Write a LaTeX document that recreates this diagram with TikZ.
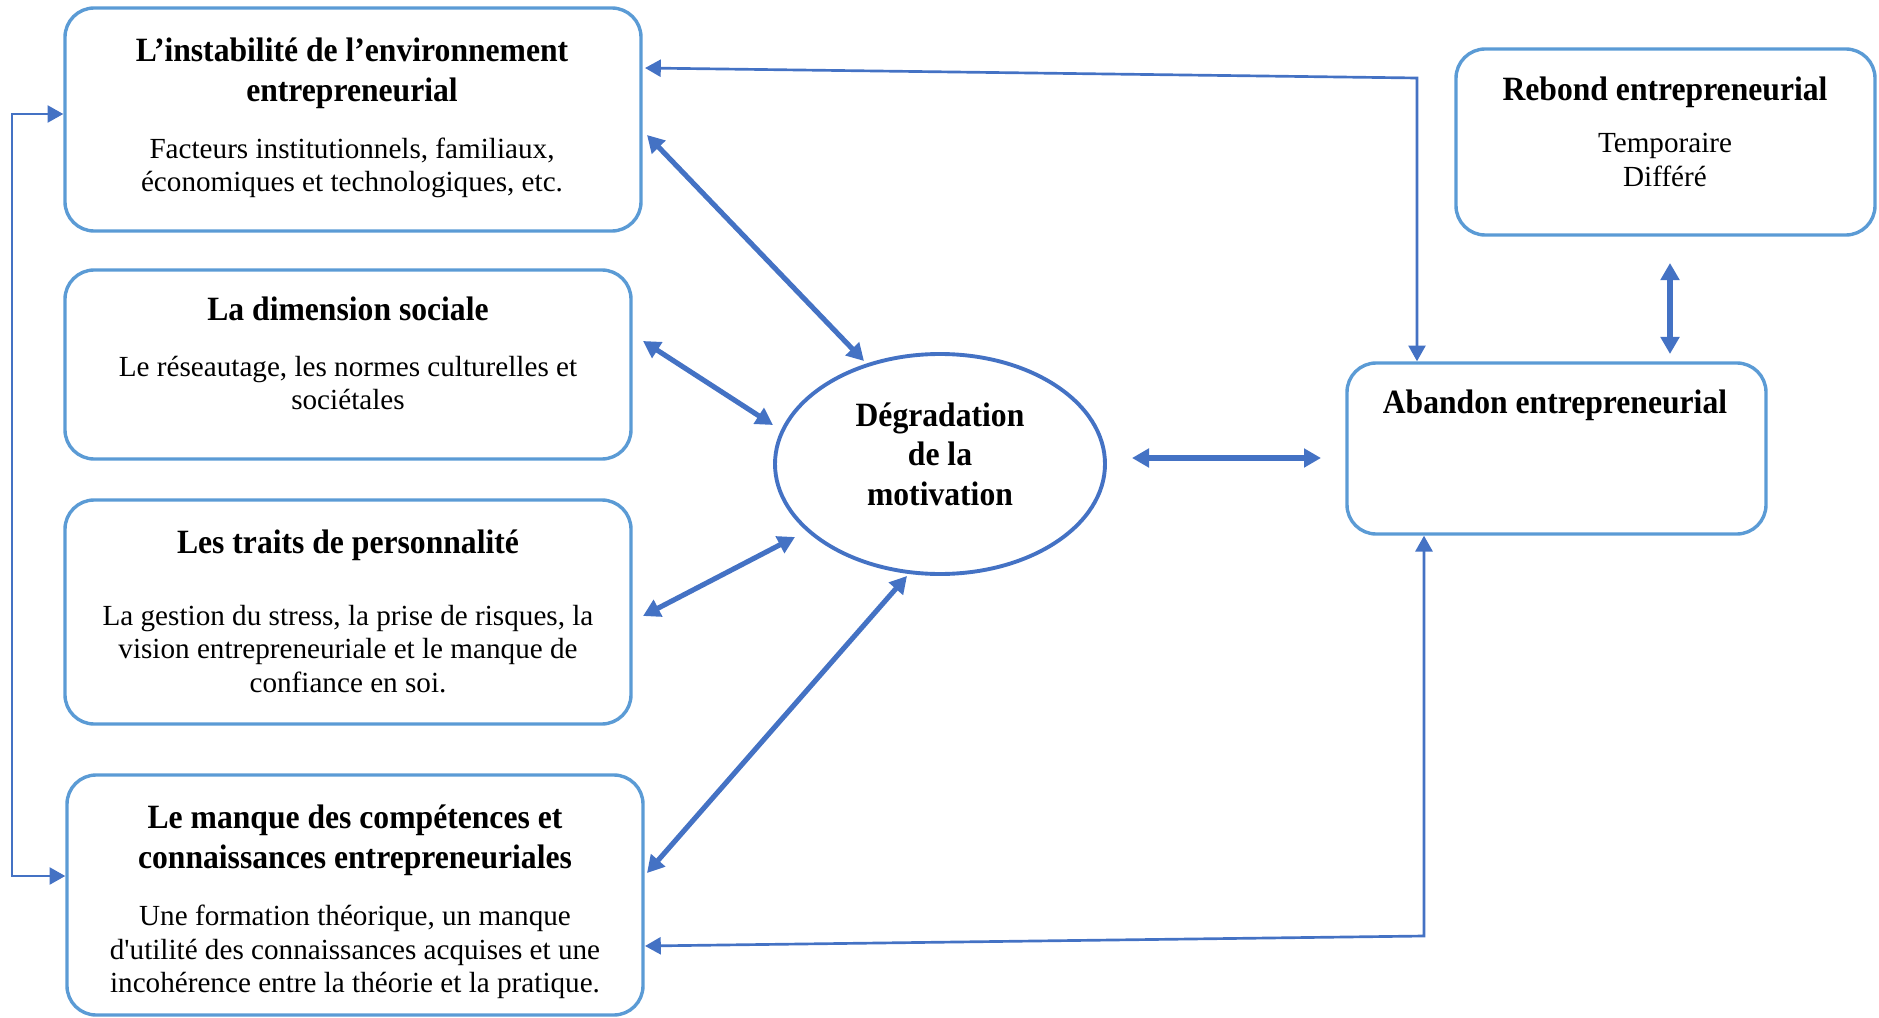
\documentclass[tikz,border=0pt]{standalone}
\usepackage{fontspec}
\setmainfont{Liberation Serif}
\newfontfamily\headfont{Liberation Serif}[FakeStretch=0.93]
\usetikzlibrary{arrows.meta,fit,shapes.geometric}
\definecolor{boxblue}{HTML}{5B9BD5}
\definecolor{arrblue}{HTML}{4472C4}
\tikzset{
  box/.style={draw=boxblue, line width=1.4pt, rounded corners=12pt, inner sep=0pt},
  head/.style={align=center, font=\headfont\fontsize{14}{16.3}\selectfont\bfseries, inner sep=0pt},
  body/.style={align=center, font=\fontsize{12}{13.8}\selectfont, inner sep=0pt},
  bigarrow/.style={draw=arrblue, line width=2.1pt, {Triangle[length=7pt,width=7.5pt]}-{Triangle[length=7pt,width=7.5pt]}},
  thinarrow/.style={draw=arrblue, line width=1.1pt, {Triangle[length=6.5pt,width=7pt]}-{Triangle[length=6.5pt,width=7pt]}}
}
\begin{document}
\begin{tikzpicture}[x=0.4115pt, y=-0.4115pt]
\useasboundingbox (0,0) rectangle (1879,1018);
% boxes
\node[box, fit={(65,8)(641,231)}] (b1) {};
\node[box, fit={(65,270)(631,459)}] (b2) {};
\node[box, fit={(65,500)(631,724)}] (b3) {};
\node[box, fit={(67,775)(643,1015)}] (b4) {};
\node[box, fit={(1456,49)(1875,235)}] (rb) {};
\node[box, fit={(1347,363)(1766,534)}] (ab) {};
\node[draw=arrblue, line width=1.6pt, ellipse, minimum width=330*0.4115pt, minimum height=220*0.4115pt, inner sep=0pt] (ell) at (940,464) {};
% texts
\node[head] (t1h) at (352,73) {L’instabilité de l’environnement\\entrepreneurial};
\node[body] (t1b) at (352,168) {Facteurs institutionnels, familiaux,\\économiques et technologiques, etc.};
\node[head] (t2h) at (348,309) {La dimension sociale};
\node[body] (t2b) at (348,383) {Le réseautage, les normes culturelles et\\sociétales};
\node[head] (t3h) at (348,545) {Les traits de personnalité};
\node[body] (t3b) at (348,649) {La gestion du stress, la prise de risques, la\\vision entrepreneuriale et le manque de\\confiance en soi.};
\node[head] (t4h) at (355,840) {Le manque des compétences et\\connaissances entrepreneuriales};
\node[body] (t4b) at (355,952) {Une formation théorique, un manque\\d\textquotesingle utilité des connaissances acquises et une\\incohérence entre la théorie et la pratique.};
\node[head] (trh) at (1665,92) {Rebond entrepreneurial};
\node[body] (trb) at (1665,160) {Temporaire\\Différé};
\node[head] (tah) at (1555,405) {Abandon entrepreneurial};
\node[head] (te) at (940,454) {Dégradation\\de la\\motivation};
% coordinates for connector ends
\coordinate (c1a) at (647,135);
\coordinate (c1b) at (864,361);
\coordinate (c2a) at (643,341);
\coordinate (c2b) at (773,425);
\coordinate (c3a) at (643,616);
\coordinate (c3b) at (795,537);
\coordinate (c4a) at (647,873);
\coordinate (c4b) at (907,576);
\coordinate (cha) at (1132,458);
\coordinate (chb) at (1321,458);
\coordinate (cva) at (1670,263);
\coordinate (cvb) at (1670,354);
\coordinate (lt) at (12,114);
\coordinate (lb) at (12,876);
\coordinate (tr) at (1417,78);
\coordinate (br) at (1424,936);
% thick arrows
\draw[bigarrow] (c1a) -- (c1b);
\draw[bigarrow] (c2a) -- (c2b);
\draw[bigarrow] (c3a) -- (c3b);
\draw[bigarrow] (c4a) -- (c4b);
\draw[bigarrow] (cha) -- (chb);
\draw[bigarrow] (cva) -- (cvb);
% thin connectors
\draw[thinarrow] (b1.west |- lt) -- (lt) -- (lb) -- (b4.west |- lb);
\draw[thinarrow] (645,68) -- (tr) -- (tr |- ab.north);
\draw[thinarrow] (br |- ab.south) -- (br) -- (645,946);
\end{tikzpicture}
\end{document}
